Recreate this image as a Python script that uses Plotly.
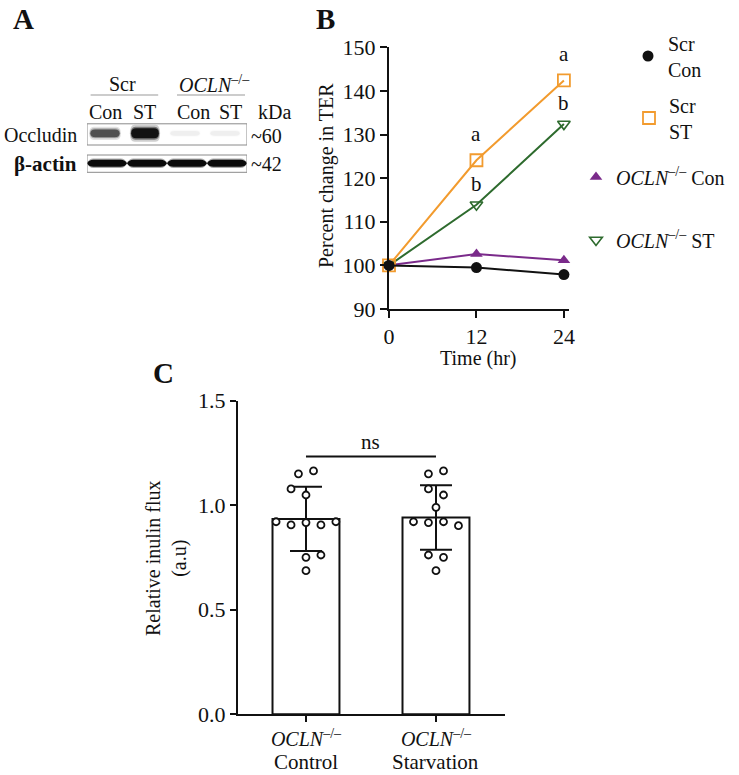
import numpy as np
import plotly.graph_objects as go

# ---------------- data ----------------
# Panel B: percent change in TER
time_hr = [0, 12, 24]
scr_con = [100.0, 99.5, 97.9]
scr_st = [100.0, 124.1, 142.4]
ocln_con = [100.0, 102.6, 101.2]
ocln_st = [100.0, 113.9, 132.4]
sig_scr_st = ["", "a", "a"]
sig_ocln_st = ["", "b", "b"]

# Panel C: relative inulin flux (individual points)
flux_genotype = ["<i>OCLN</i><sup>–/–</sup>", "<i>OCLN</i><sup>–/–</sup>"]
flux_condition = ["Control", "Starvation"]
flux_control = [1.150, 1.164, 1.078, 1.049, 0.921, 0.906, 0.917, 0.906, 0.921, 0.751, 0.762, 0.687]
flux_starvation = [1.150, 1.164, 1.078, 1.049, 0.990, 0.921, 0.917, 0.921, 0.902, 0.762, 0.751, 0.687]
flux_ticks = [0.0, 0.5, 1.0, 1.5]

# Panel A: western blot band intensities
blot_groups = ["Scr", "<i>OCLN</i><sup>–/–</sup>"]
blot_lanes = ["Con", "ST", "Con", "ST"]
occludin_intensity = [0.6, 1.0, 0.04, 0.04]
actin_intensity = [1.0, 1.0, 1.0, 1.0]

# ---------------- layout helpers ----------------
W, H = 739, 775
FONT = "Liberation Serif"
INK = "#111111"


def px(xp):
    return xp / W


def py(yp):
    return 1 - yp / H


# dot jitter (layout only, in category units)
ctrl_offsets = [-0.058, 0.058, -0.115, 0, -0.23, -0.115, 0, 0.115, 0.23, 0, 0.115, 0]
starv_offsets = [-0.058, 0.058, -0.058, 0.058, 0, -0.173, -0.058, 0.058, 0.173, -0.058, 0.058, 0]

fig = go.Figure()

# ---------------- Panel B ----------------
C_ORANGE, C_GREEN, C_PURPLE = "#F29B2E", "#2E6B2E", "#7A2A8A"
series = [
    ("<i>OCLN</i><sup>–/–</sup> ST", ocln_st, C_GREEN,
     dict(symbol="triangle-down-open", size=11, color=C_GREEN, line=dict(width=1.6, color=C_GREEN)), "legend4"),
    ("<i>OCLN</i><sup>–/–</sup> Con", ocln_con, C_PURPLE,
     dict(symbol="triangle-up", size=11, color=C_PURPLE, line=dict(width=0, color=C_PURPLE)), "legend3"),
    ("Scr<br>ST", scr_st, C_ORANGE,
     dict(symbol="square-open", size=12, color=C_ORANGE, line=dict(width=1.8, color=C_ORANGE)), "legend2"),
    ("Scr<br>Con", scr_con, INK,
     dict(symbol="circle", size=11, color=INK, line=dict(width=0, color=INK)), "legend"),
]
for name, vals, col, mk, lg in series:
    fig.add_trace(go.Scatter(
        x=time_hr, y=vals, mode="lines+markers", name=name,
        line=dict(color=col, width=2), marker=mk, cliponaxis=False,
        showlegend=False, xaxis="x", yaxis="y"))
    fig.add_trace(go.Scatter(
        x=[None], y=[None], mode="markers", name=name, marker=mk,
        showlegend=True, legend=lg, xaxis="x", yaxis="y"))

annotations = []
for t, v, s in zip(time_hr, scr_st, sig_scr_st):
    if s:
        annotations.append(dict(x=t, y=v, xref="x", yref="y", text=s, showarrow=False,
                                yanchor="middle", yshift=26, font=dict(size=21)))
for t, v, s in zip(time_hr, ocln_st, sig_ocln_st):
    if s:
        annotations.append(dict(x=t, y=v, xref="x", yref="y", text=s, showarrow=False,
                                yanchor="middle", yshift=21, font=dict(size=21)))

# ---------------- Panel C ----------------
flux_sets = [flux_control, flux_starvation]
means = [float(np.mean(v)) for v in flux_sets]
sds = [float(np.std(v, ddof=1)) for v in flux_sets]
cat_x = list(range(len(flux_condition)))

fig.add_trace(go.Bar(
    x=cat_x, y=means, width=0.515, showlegend=False,
    marker=dict(color="white", line=dict(color=INK, width=2)),
    error_y=dict(type="data", array=sds, visible=True, color=INK, thickness=2, width=16),
    xaxis="x2", yaxis="y2"))

for ci, (vals, offs) in enumerate(zip(flux_sets, [ctrl_offsets, starv_offsets])):
    fig.add_trace(go.Scatter(
        x=[ci + o for o in offs], y=vals, mode="markers", showlegend=False,
        marker=dict(symbol="circle", size=7, color="white", line=dict(color=INK, width=1.8)),
        cliponaxis=False, xaxis="x2", yaxis="y2"))

# second line of the category labels (condition names)
for ci, cond in enumerate(flux_condition):
    annotations.append(dict(x=ci, y=0, xref="x2", yref="paper", text=cond,
                            showarrow=False, font=dict(size=21), xanchor="center",
                            yanchor="bottom", borderpad=0))

shapes = []
ns_level = 1.233
shapes.append(dict(type="line", xref="x2", yref="y2", x0=cat_x[0], x1=cat_x[1],
                   y0=ns_level, y1=ns_level, line=dict(color=INK, width=1.8)))
annotations.append(dict(x=(cat_x[0] + cat_x[1]) / 2, y=ns_level, xref="x2", yref="y2",
                        text="ns", showarrow=False, yanchor="middle", yshift=15,
                        font=dict(size=21)))


# ---------------- Panel A (blot drawing) ----------------
def rounded_band(lane, yc_px, h_px, half_w, v):
    out = []
    for scale, wscale, op in [(1.7, 1.05, 0.2), (1.3, 1.0, 0.45), (1.0, 0.96, 0.95)]:
        h = h_px * scale
        y0, y1, ym = py(yc_px + h / 2), py(yc_px - h / 2), py(yc_px)
        hw = half_w * wscale
        x0, x1 = lane - hw, lane + hw
        r = 0.12
        path = (f"M{x0 + r},{y1} L{x1 - r},{y1} Q{x1},{y1} {x1},{ym} Q{x1},{y0} {x1 - r},{y0} "
                f"L{x0 + r},{y0} Q{x0},{y0} {x0},{ym} Q{x0},{y1} {x0 + r},{y1} Z")
        out.append(dict(type="path", xref="x3", yref="paper", path=path,
                        fillcolor="#0d0d0d", opacity=min(1.0, op * v), line=dict(width=0)))
    return out


def tapered_band(lane, yc_px, h_px, half_w, v, taper=0.16):
    out = []
    for scale, op in [(1.35, 0.35), (1.0, 1.0)]:
        h = h_px * scale
        y0, y1, ym = py(yc_px + h / 2), py(yc_px - h / 2), py(yc_px)
        x0, x1 = lane - half_w, lane + half_w
        path = (f"M{x0},{ym} Q{x0 + taper * 0.3},{y1} {x0 + taper},{y1} L{x1 - taper},{y1} "
                f"Q{x1 - taper * 0.3},{y1} {x1},{ym} Q{x1 - taper * 0.3},{y0} {x1 - taper},{y0} "
                f"L{x0 + taper},{y0} Q{x0 + taper * 0.3},{y0} {x0},{ym} Z")
        out.append(dict(type="path", xref="x3", yref="paper", path=path,
                        fillcolor="#0a0a0a", opacity=min(1.0, op * v), line=dict(width=0)))
    return out


occ_half_w = [0.38, 0.36, 0.38, 0.38]
for i, v in enumerate(occludin_intensity):
    shapes += rounded_band(i - 0.05, 133.3, 4.5 + 5.5 * v, occ_half_w[i], v)
for i, v in enumerate(actin_intensity):
    shapes += tapered_band(i, 163.2, 7.0, 0.50, v)

for top, bot in [(123.8, 145.0), (155.0, 172.3)]:
    shapes.append(dict(type="rect", xref="x3", yref="paper", x0=-0.5, x1=3.5,
                       y0=py(bot), y1=py(top), line=dict(color="#8a8a8a", width=1)))

# group labels and underlines
group_spans = [(-0.41, 1.28), (1.75, 3.45)]
group_label_x = [0.39, 2.68]
for g in range(2):
    a, b = group_spans[g]
    shapes.append(dict(type="line", xref="x3", yref="paper", x0=a, x1=b,
                       y0=py(95), y1=py(95), line=dict(color="#999999", width=1)))
    annotations.append(dict(x=group_label_x[g], y=py(84), xref="x3", yref="paper",
                            text=blot_groups[g], showarrow=False, font=dict(size=20),
                            xanchor="center", yanchor="middle"))
lane_label_x = [-0.03, 0.93, 2.15, 3.08]
for i, lab in enumerate(blot_lanes):
    annotations.append(dict(x=lane_label_x[i], y=py(112), xref="x3", yref="paper", text=lab,
                            showarrow=False, font=dict(size=20), xanchor="center", yanchor="middle"))
annotations.append(dict(x=px(274), y=py(112), xref="paper", yref="paper", text="kDa",
                        showarrow=False, font=dict(size=20), xanchor="center", yanchor="middle"))
annotations.append(dict(x=px(79), y=py(135), xref="paper", yref="paper", text="Occludin",
                        showarrow=False, font=dict(size=20), xanchor="right", yanchor="middle"))
annotations.append(dict(x=px(79), y=py(164), xref="paper", yref="paper", text="<b>β-actin</b>",
                        showarrow=False, font=dict(size=21), xanchor="right", yanchor="middle"))
annotations.append(dict(x=px(249), y=py(136), xref="paper", yref="paper", text="~60",
                        showarrow=False, font=dict(size=20), xanchor="left", yanchor="middle"))
annotations.append(dict(x=px(249), y=py(164), xref="paper", yref="paper", text="~42",
                        showarrow=False, font=dict(size=20), xanchor="left", yanchor="middle"))

# panel letters
for letter, (lx, ly) in {"A": (23, 19), "B": (325, 19), "C": (163, 373)}.items():
    annotations.append(dict(x=px(lx), y=py(ly), xref="paper", yref="paper", text=f"<b>{letter}</b>",
                            showarrow=False, font=dict(size=29), xanchor="center", yanchor="middle"))

# axis titles
annotations.append(dict(x=px(327), y=py(176), xref="paper", yref="paper", text="Percent change in TER",
                        textangle=-90, showarrow=False, font=dict(size=20),
                        xanchor="center", yanchor="middle"))
annotations.append(dict(x=px(478), y=py(358), xref="paper", yref="paper", text="Time (hr)",
                        showarrow=False, font=dict(size=20), xanchor="center", yanchor="middle"))
annotations.append(dict(x=px(166), y=py(558), xref="paper", yref="paper",
                        text="Relative inulin flux<br>(a.u)", textangle=-90, showarrow=False,
                        font=dict(size=20), xanchor="center", yanchor="middle"))

axis_common = dict(showline=True, linecolor=INK, linewidth=2, ticks="outside",
                   tickcolor=INK, tickwidth=2, showgrid=False, zeroline=False,
                   automargin=False, tickfont=dict(size=22, color=INK))

legend_common = dict(xanchor="left", yanchor="middle", bgcolor="rgba(0,0,0,0)",
                     font=dict(family=FONT, size=20, color=INK), borderwidth=0,
                     itemclick=False, itemdoubleclick=False)

fig.update_layout(
    template="plotly",
    width=W, height=H, margin=dict(l=0, r=0, t=0, b=0, autoexpand=False),
    paper_bgcolor="white", plot_bgcolor="white",
    font=dict(family=FONT, size=20, color=INK),
    xaxis=dict(domain=[px(389), px(569)], range=[0, 24.7], tickvals=time_hr, ticklen=7,
               anchor="y", **axis_common),
    yaxis=dict(domain=[py(309), py(47.3)], range=[90, 150], dtick=10, ticklen=7,
               anchor="x", **axis_common),
    xaxis2=dict(domain=[px(238), px(505)], range=[-0.523, 1.531], tickvals=cat_x,
                ticktext=flux_genotype, ticklen=6, ticklabelstandoff=0, anchor="y2",
                **{**axis_common, "tickfont": dict(size=20, color=INK)}),
    yaxis2=dict(domain=[py(714.3), py(400.7)], range=[0, 1.5], tickvals=flux_ticks,
                tickformat=".1f", ticklen=6, anchor="x2", **axis_common),
    xaxis3=dict(domain=[px(87), px(247)], range=[-0.5, 3.5], visible=False, anchor="y3"),
    yaxis3=dict(domain=[py(175), py(120)], range=[0, 1], visible=False, anchor="x3"),
    legend=dict(x=px(628), y=py(56), **legend_common),
    legend2=dict(x=px(629), y=py(118), **legend_common),
    legend3=dict(x=px(576), y=py(177), **legend_common),
    legend4=dict(x=px(576), y=py(240), **legend_common),
    shapes=shapes, annotations=annotations,
)

fig.write_html(
    "out.html",
    config={"displayModeBar": False},
    post_script="document.body.style.margin='0px';document.body.style.padding='0px';",
)
